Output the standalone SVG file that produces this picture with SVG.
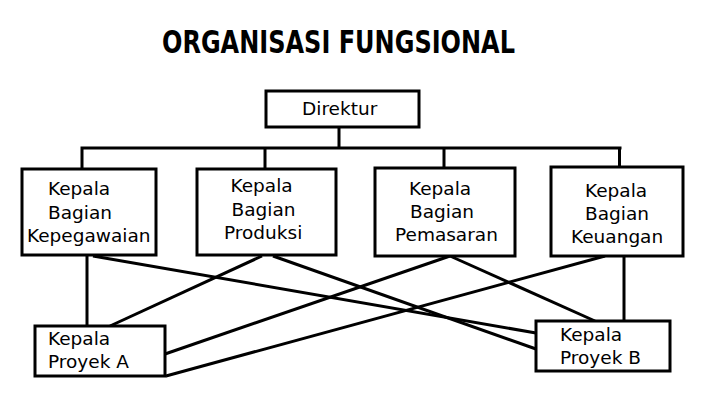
<svg xmlns="http://www.w3.org/2000/svg" width="706" height="416" viewBox="0 0 706 416">
<style>
.box{fill:#fff;stroke:#000;stroke-width:3}
.ln{stroke:#000;stroke-width:3;fill:none;stroke-linecap:butt}
.t{font-family:"DejaVu Sans","Liberation Sans",sans-serif;font-size:18.5px;fill:#000}
.title{font-family:"DejaVu Sans","Liberation Sans",sans-serif;font-size:32px;font-weight:900;fill:#000}
</style>
<rect width="706" height="416" fill="#fff"/>
<text class="title" x="162" y="53" textLength="353" lengthAdjust="spacingAndGlyphs">ORGANISASI FUNGSIONAL</text>
<g id="connectors">
<path class="ln" d="M339 127V148M80.5 148H621.5M82 148V169M265 148V169M444 148V168M619.5 148V168"/>
<path class="ln" d="M87 255V326M624 256V321"/>
<path class="ln" d="M93 256L536 333"/>
<path class="ln" d="M273 256L536 349"/>
<path class="ln" d="M262 256L110 326"/>
<path class="ln" d="M450 256L595 321"/>
<path class="ln" d="M450 256L165 354"/>
<path class="ln" d="M605 256L166 376"/>
</g>
<g id="direktur"><rect class="box" x="266" y="91" width="153" height="36"/><text class="t" x="302" y="115">Direktur</text></g>
<g id="kb-kepegawaian"><rect class="box" x="22" y="169" width="134" height="86"/><text class="t"><tspan x="48" y="195">Kepala</tspan><tspan x="48" y="218.5">Bagian</tspan><tspan x="27" y="242">Kepegawaian</tspan></text></g>
<g id="kb-produksi"><rect class="box" x="197" y="169" width="139" height="86"/><text class="t"><tspan x="230.5" y="192">Kepala</tspan><tspan x="231.5" y="215.5">Bagian</tspan><tspan x="224" y="239">Produksi</tspan></text></g>
<g id="kb-pemasaran"><rect class="box" x="375" y="168" width="140" height="88"/><text class="t"><tspan x="409" y="195">Kepala</tspan><tspan x="410" y="218">Bagian</tspan><tspan x="395" y="241">Pemasaran</tspan></text></g>
<g id="kb-keuangan"><rect class="box" x="551" y="167" width="132" height="89"/><text class="t"><tspan x="585" y="197">Kepala</tspan><tspan x="585" y="220">Bagian</tspan><tspan x="571" y="243">Keuangan</tspan></text></g>
<g id="proyek-a"><rect class="box" x="35" y="326" width="130" height="50"/><text class="t"><tspan x="48" y="345">Kepala</tspan><tspan x="48" y="368">Proyek A</tspan></text></g>
<g id="proyek-b"><rect class="box" x="536" y="321" width="134" height="50"/><text class="t"><tspan x="560" y="341">Kepala</tspan><tspan x="560" y="363.5">Proyek B</tspan></text></g>
</svg>
